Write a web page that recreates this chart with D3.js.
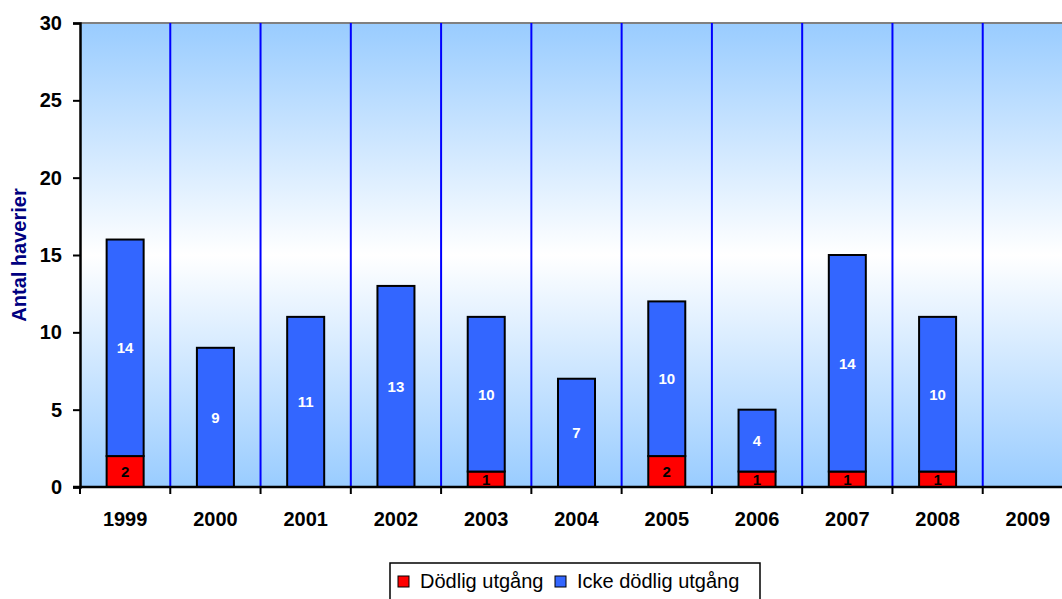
<!DOCTYPE html>
<html>
<head>
<meta charset="utf-8">
<script src="https://cdn.jsdelivr.net/npm/d3@7"></script>
<style>
  html, body { margin: 0; padding: 0; background: #fff; }
  svg { display: block; font-family: Arial, "Liberation Sans", sans-serif; }
</style>
</head>
<body>
<svg id="chart" width="1062" height="599"></svg>
<script>
// Haverier per år, uppdelat på utgång
const years = ["1999", "2000", "2001", "2002", "2003", "2004", "2005", "2006", "2007", "2008", "2009"];
const fatal = [2, 0, 0, 0, 1, 0, 2, 1, 1, 1, 0];
const nonFatal = [14, 9, 11, 13, 10, 7, 10, 4, 14, 10, 0];
const yTicks = [0, 5, 10, 15, 20, 25, 30];
const seriesNames = ["Dödlig utgång", "Icke dödlig utgång"];
const seriesColors = ["#FF0000", "#3366FF"];

const rows = years.map((y, i) => ({ year: y, fatal: fatal[i], nonFatal: nonFatal[i] }));
const stacked = d3.stack().keys(["fatal", "nonFatal"])(rows);

const svg = d3.select("#chart");
const plot = { left: 80, top: 23, right: 1073, bottom: 487 };
const FONT = "Arial, 'Liberation Sans', sans-serif";

const x = d3.scaleBand().domain(years).range([plot.left, plot.right]).paddingInner(0).paddingOuter(0);
const y = d3.scaleLinear().domain([0, 30]).range([plot.bottom, plot.top]);

// Plot background gradient
const defs = svg.append("defs");
const grad = defs.append("linearGradient").attr("id", "bg").attr("x1", 0).attr("y1", 0).attr("x2", 0).attr("y2", 1);
grad.append("stop").attr("offset", "0%").attr("stop-color", "#99CCFF");
grad.append("stop").attr("offset", "50%").attr("stop-color", "#FFFFFF");
grad.append("stop").attr("offset", "100%").attr("stop-color", "#99CCFF");

svg.append("rect")
  .attr("x", plot.left).attr("y", plot.top)
  .attr("width", plot.right - plot.left).attr("height", plot.bottom - plot.top)
  .attr("fill", "url(#bg)");

// Top border of the plot area
svg.append("line")
  .attr("x1", plot.left).attr("x2", plot.right)
  .attr("y1", plot.top).attr("y2", plot.top)
  .attr("stroke", "#808080").attr("stroke-width", 2);

// Vertical separators between years
svg.append("g").selectAll("line")
  .data(years.slice(1))
  .join("line")
  .attr("x1", d => x(d)).attr("x2", d => x(d))
  .attr("y1", plot.top).attr("y2", plot.bottom)
  .attr("stroke", "#0000FF").attr("stroke-width", 2);

// Stacked bars
const barW = x.bandwidth() * 0.41;
const layers = svg.append("g").selectAll("g")
  .data(stacked)
  .join("g")
  .attr("fill", (d, i) => seriesColors[i]);

layers.selectAll("rect")
  .data(d => d.filter(s => s[1] - s[0] > 0))
  .join("rect")
  .attr("x", d => x(d.data.year) + (x.bandwidth() - barW) / 2)
  .attr("y", d => y(d[1]))
  .attr("width", barW)
  .attr("height", d => y(d[0]) - y(d[1]))
  .attr("stroke", "#000").attr("stroke-width", 2);

// Segment value labels
stacked.forEach((layer, li) => {
  svg.append("g").selectAll("text")
    .data(layer.filter(s => s[1] - s[0] > 0))
    .join("text")
    .attr("x", d => x(d.data.year) + x.bandwidth() / 2)
    .attr("y", d => (y(d[0]) + y(d[1])) / 2)
    .attr("dy", "0.36em")
    .attr("text-anchor", "middle")
    .attr("font-family", FONT)
    .attr("font-size", 15).attr("font-weight", "bold")
    .attr("fill", li === 0 ? "#000" : "#fff")
    .text(d => d[1] - d[0]);
});

// Y axis
const yAxis = svg.append("g")
  .attr("transform", `translate(${plot.left},0)`)
  .call(d3.axisLeft(y).tickValues(yTicks).tickSize(7).tickPadding(11));
yAxis.attr("font-size", null).attr("font-family", null);
yAxis.select(".domain").attr("stroke", "#000").attr("stroke-width", 2.5);
yAxis.selectAll(".tick line").attr("stroke", "#000").attr("stroke-width", 2);
yAxis.selectAll(".tick text")
  .attr("font-size", 20).attr("font-weight", "bold").attr("fill", "#000")
  .attr("font-family", FONT);

// X axis: ticks at year boundaries, labels centred in each band
const xAxisG = svg.append("g").attr("transform", `translate(0,${plot.bottom})`);
xAxisG.append("line")
  .attr("x1", plot.left - 7).attr("x2", plot.right)
  .attr("stroke", "#000").attr("stroke-width", 2.5);
xAxisG.selectAll(".xtick")
  .data(years)
  .join("line")
  .attr("x1", d => x(d)).attr("x2", d => x(d))
  .attr("y1", 0).attr("y2", 7)
  .attr("stroke", "#000").attr("stroke-width", 2);
xAxisG.selectAll(".xlabel")
  .data(years)
  .join("text")
  .attr("x", d => x(d) + x.bandwidth() / 2)
  .attr("y", 32)
  .attr("dy", "0.36em")
  .attr("text-anchor", "middle")
  .attr("font-family", FONT)
  .attr("font-size", 20).attr("font-weight", "bold").attr("fill", "#000")
  .text(d => d);

// Y axis title
svg.append("text")
  .attr("transform", `translate(26,255) rotate(-90)`)
  .attr("text-anchor", "middle")
  .attr("font-family", FONT)
  .attr("font-size", 20).attr("font-weight", "bold").attr("fill", "#000080")
  .text("Antal haverier");

// Legend
const legend = svg.append("g");
legend.append("rect")
  .attr("x", 390).attr("y", 563).attr("width", 370).attr("height", 40)
  .attr("fill", "#fff").attr("stroke", "#000").attr("stroke-width", 1.5);
const legendItems = [
  { name: seriesNames[0], color: seriesColors[0], x: 398 },
  { name: seriesNames[1], color: seriesColors[1], x: 555 }
];
legendItems.forEach(it => {
  legend.append("rect")
    .attr("x", it.x).attr("y", 576).attr("width", 11).attr("height", 11)
    .attr("fill", it.color).attr("stroke", "#000").attr("stroke-width", 1);
  legend.append("text")
    .attr("x", it.x + 22).attr("y", 581).attr("dy", "0.36em")
    .attr("font-family", FONT)
    .attr("font-size", 20).attr("fill", "#000")
    .text(it.name);
});
</script>
</body>
</html>
